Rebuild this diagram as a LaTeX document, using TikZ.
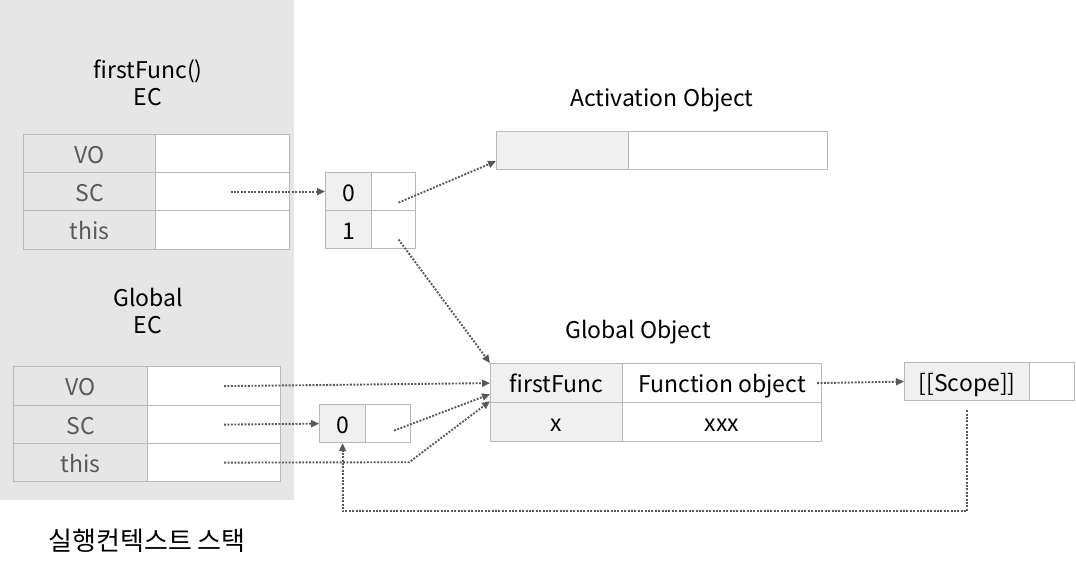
\documentclass[tikz,border=0pt]{standalone}
\usepackage{fontspec}
\setmainfont{Noto Sans CJK KR}
\usetikzlibrary{arrows.meta,calc}
\definecolor{panel}{HTML}{E6E6E6}
\definecolor{bordercol}{HTML}{B8B8B8}
\definecolor{lightcell}{HTML}{F0F0F0}
\definecolor{arrcol}{HTML}{595959}
\definecolor{labcol}{HTML}{595959}
\begin{document}
\begin{tikzpicture}[x=1pt,y=-1pt,
  txt/.style={font=\fontsize{23}{27}\selectfont, inner sep=0pt, align=center},
  cell/.style={draw=bordercol, line width=1.2pt, inner sep=0pt, anchor=north west, text height=19pt, text depth=0pt, font=\fontsize{23}{26}\selectfont},
  cellp/.style={cell, fill=panel, text=labcol},
  cellw/.style={cell, fill=white},
  celll/.style={cell, fill=lightcell},
  arr/.style={draw=arrcol, line width=1.9pt, dash pattern=on 1.9pt off 1.5pt, -{Triangle[length=8pt,width=7pt]}}
]
\useasboundingbox (0,0) rectangle (1076,571);
\fill[panel] (0,0) rectangle (294,500);

% firstFunc EC
\node[txt] (t1title) at (148,83) {firstFunc()\\EC};
\node[cellp, minimum width=132, minimum height=38] (t1vo) at (23,134) {VO};
\node[cellw, minimum width=134, minimum height=38] (t1vov) at (155,134) {};
\node[cellp, minimum width=132, minimum height=38] (t1sc) at (23,172) {SC};
\node[cellw, minimum width=134, minimum height=38] (t1scv) at (155,172) {};
\node[cellp, minimum width=132, minimum height=39] (t1this) at (23,210) {this};
\node[cellw, minimum width=134, minimum height=39] (t1thisv) at (155,210) {};

% Global EC
\node[txt] (t2title) at (148,311) {Global\\EC};
\node[cellp, minimum width=134, minimum height=39] (t2vo) at (13,366) {VO};
\node[cellw, minimum width=133, minimum height=39] (t2vov) at (147,366) {};
\node[cellp, minimum width=134, minimum height=38] (t2sc) at (13,405) {SC};
\node[cellw, minimum width=133, minimum height=38] (t2scv) at (147,405) {};
\node[cellp, minimum width=134, minimum height=38] (t2this) at (13,443) {this};
\node[cellw, minimum width=133, minimum height=38] (t2thisv) at (147,443) {};

% scope chain array 1
\node[celll, minimum width=46, minimum height=38] (a1zero) at (325,172) {0};
\node[cellw, minimum width=44, minimum height=38] (a1zerov) at (371,172) {};
\node[celll, minimum width=46, minimum height=38] (a1one) at (325,210) {1};
\node[cellw, minimum width=44, minimum height=38] (a1onev) at (371,210) {};

% scope chain array 2
\node[celll, minimum width=46, minimum height=38] (a2zero) at (319,404) {0};
\node[cellw, minimum width=45, minimum height=38] (a2zerov) at (365,404) {};

% Activation Object
\node[txt] (aotitle) at (662,100) {Activation Object};
\node[celll, minimum width=132, minimum height=38] (aoL) at (496,131) {};
\node[cellw, minimum width=199, minimum height=38] (aoR) at (628,131) {};

% Global Object
\node[txt] (gotitle) at (638,332) {Global Object};
\node[celll, minimum width=132, minimum height=39] (gfirst) at (490,363) {firstFunc};
\node[cellw, minimum width=199, minimum height=39] (gfunc) at (622,363) {Function object};
\node[celll, minimum width=132, minimum height=39] (gx) at (490,402) {x};
\node[cellw, minimum width=199, minimum height=39] (gxv) at (622,402) {xxx};

% [[Scope]]
\node[celll, minimum width=125, minimum height=38] (scopeL) at (904,362) {[[Scope]]};
\node[cellw, minimum width=45, minimum height=38] (scopeR) at (1029,362) {};

% Korean caption
\node[txt, font=\fontsize{26}{30}\selectfont] (caption) at (147,541) {실행컨텍스트 스택};

% connectors
\draw[arr] ([xshift=8pt]t1scv.center) -- (a1zero.west);
\draw[arr] ([xshift=5pt,yshift=-11pt]a1zerov.center) -- ([yshift=9pt]aoL.south west);
\draw[arr] ([xshift=5pt,yshift=-10pt]a1onev.center) -- (gfirst.north west);
\draw[arr] ([xshift=10pt]t2vov.center) -- (gfirst.west);
\draw[arr] ([xshift=10pt]t2scv.center) -- (a2zero.west);
\draw[arr] ([xshift=6pt,yshift=-7pt]a2zerov.center) -- ([yshift=9pt]gfirst.south west);
\draw[arr] ([xshift=10pt]t2thisv.center) -- ($(a2zerov.south east)+(-2,19)$) -- ([yshift=2pt]gfirst.south west);
\draw[arr] ([xshift=-5pt]gfunc.east) -- (scopeL.west);
\draw[arr] ([yshift=-9pt]scopeL.south) |- ($(a2zero.south)+(0,68)$) -- (a2zero.south);
\end{tikzpicture}
\end{document}
